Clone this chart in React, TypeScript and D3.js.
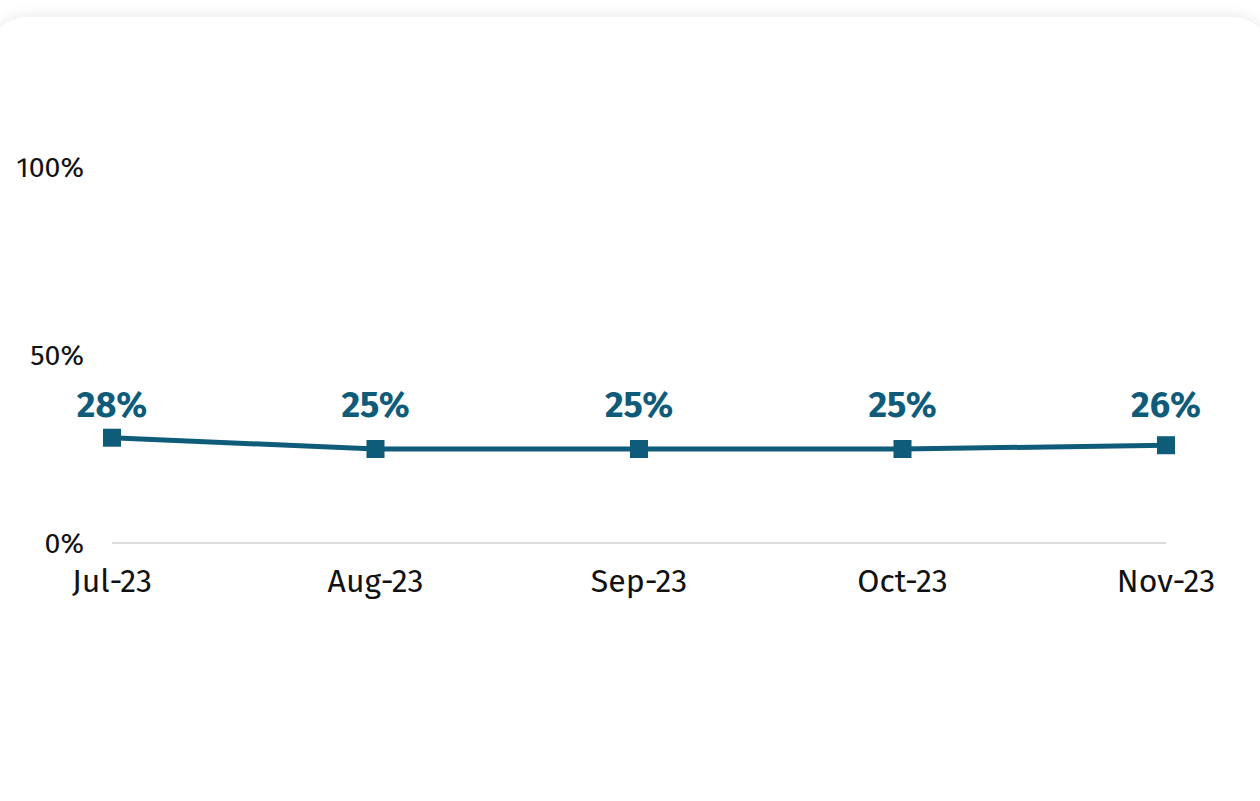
import * as d3 from 'd3';

// months on the x axis
const months = ['Jul-23', 'Aug-23', 'Sep-23', 'Oct-23', 'Nov-23'];
// share per month, in percent
const shares = [28, 25, 25, 25, 26];
// y axis ticks
const yTicks = [0, 50, 100];

export default function App() {
  const width = 1260;
  const height = 801;

  // plot area
  const margin = { top: 167, right: 94, bottom: 258, left: 112 };
  const innerBottom = height - margin.bottom;

  const xScale = d3
    .scalePoint<string>()
    .domain(months)
    .range([margin.left, width - margin.right]);

  const yScale = d3.scaleLinear().domain([0, 100]).range([innerBottom, margin.top]);

  const line = d3
    .line<number>()
    .x((_, i) => xScale(months[i]) as number)
    .y((d) => yScale(d));

  const color = '#0f5b7a';
  const font = "'Fira Sans', 'Noto Sans', sans-serif";

  // value labels sit on one row above the line
  const labelBaseline = 417;

  return (
    <div style={{ position: 'fixed', left: 0, top: 0, width, height, background: '#fff' }}>
      <svg width={width} height={height} style={{ display: 'block' }}>
        <defs>
          <filter id="cardShadow" x="-10%" y="-10%" width="120%" height="120%">
            <feDropShadow dx="0" dy="0" stdDeviation="7" floodColor="#000" floodOpacity="0.1" />
          </filter>
        </defs>

        {/* card */}
        <rect x={-12} y={17} width={width + 24} height={height + 40} rx={40} fill="#fff" filter="url(#cardShadow)" />

        {/* baseline */}
        <line
          x1={xScale(months[0])}
          x2={xScale(months[months.length - 1])}
          y1={yScale(0)}
          y2={yScale(0)}
          stroke="#dcdcdc"
          strokeWidth={2}
        />

        {/* y tick labels */}
        {yTicks.map((t) => (
          <text
            key={t}
            x={84}
            y={yScale(t)}
            dy="0.35em"
            textAnchor="end"
            fontFamily={font}
            fontSize={28.5}
            fill="#111"
          >
            {t}%
          </text>
        ))}

        {/* x tick labels */}
        {months.map((m) => (
          <text
            key={m}
            x={xScale(m)}
            y={592}
            textAnchor="middle"
            fontFamily={font}
            fontSize={32}
            fill="#111"
          >
            {m}
          </text>
        ))}

        {/* line */}
        <path d={line(shares) ?? ''} fill="none" stroke={color} strokeWidth={5} />

        {/* markers and labels */}
        {shares.map((v, i) => {
          const cx = xScale(months[i]) as number;
          const cy = yScale(v);
          return (
            <g key={months[i]}>
              <rect x={cx - 9} y={cy - 9} width={18} height={18} fill={color} />
              <text
                x={cx}
                y={labelBaseline}
                textAnchor="middle"
                fontFamily={font}
                fontWeight="bold"
                fontSize={36}
                fill={color}
              >
                {v}%
              </text>
            </g>
          );
        })}
      </svg>
    </div>
  );
}
